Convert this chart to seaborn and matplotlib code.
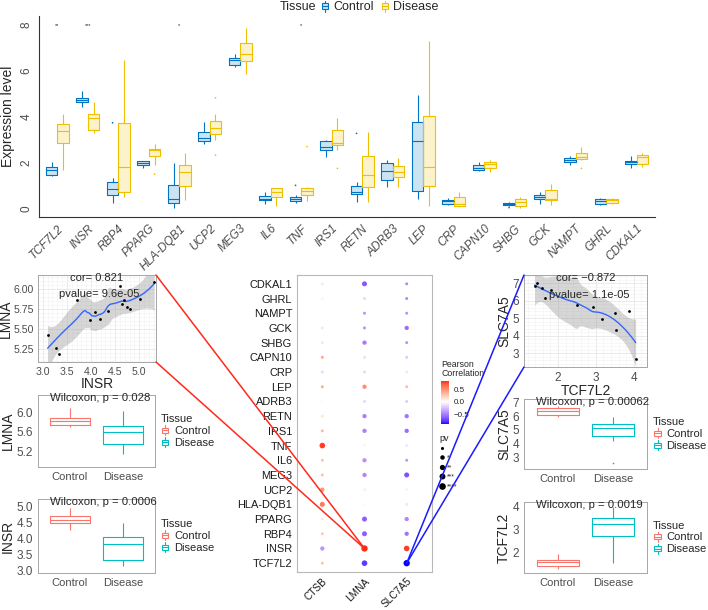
import numpy as np
import pandas as pd
import matplotlib
matplotlib.use("Agg")
import matplotlib.pyplot as plt
import seaborn as sns
from matplotlib.colors import ListedColormap, Normalize
from matplotlib.patches import ConnectionPatch, Rectangle
from matplotlib.lines import Line2D
from matplotlib.legend_handler import HandlerBase
import matplotlib.cm as cm

# ---------------------------------------------------------------- data
genes = ["TCF7L2", "INSR", "RBP4", "PPARG", "HLA-DQB1", "UCP2", "MEG3", "IL6", "TNF",
         "IRS1", "RETN", "ADRB3", "LEP", "CRP", "CAPN10", "SHBG", "GCK", "NAMPT",
         "GHRL", "CDKAL1"]
tissues = ["Control", "Disease"]

# five-number summaries (whisker low, Q1, median, Q3, whisker high)
ctrl_lo  = [1.42, 4.41, 0.26, 1.78, 0.04, 2.81, 6.17, 0.20, 0.23, 2.26, 0.30, 0.93, 0.43, 0.16, 1.64, 0.12, 0.20, 1.90, 0.16, 1.78]
ctrl_q1  = [1.46, 4.63, 0.59, 1.90, 0.26, 2.96, 6.25, 0.35, 0.32, 2.55, 0.64, 1.25, 0.77, 0.20, 1.68, 0.16, 0.41, 2.04, 0.20, 1.94]
ctrl_med = [1.67, 4.74, 0.86, 2.00, 0.42, 3.06, 6.49, 0.43, 0.42, 2.70, 0.71, 1.65, 2.94, 0.32, 1.78, 0.20, 0.52, 2.12, 0.33, 2.01]
ctrl_q3  = [1.80, 4.84, 1.17, 2.06, 1.03, 3.33, 6.58, 0.55, 0.52, 2.94, 0.99, 1.97, 3.77, 0.38, 1.88, 0.26, 0.59, 2.19, 0.41, 2.07]
ctrl_hi  = [2.01, 5.13, 1.32, 2.09, 1.97, 3.77, 6.76, 0.71, 0.59, 2.99, 1.17, 2.12, 4.94, 0.48, 2.01, 0.30, 0.71, 2.30, 0.48, 2.29]

dis_lo  = [1.68, 3.28, 0.52, 1.90, 0.38, 3.01, 5.86, 0.12, 0.33, 2.55, 0.30, 0.96, 0.09, 0.06, 1.61, 0.04, 0.16, 2.12, 0.20, 1.83]
dis_q1  = [2.87, 3.42, 0.70, 2.29, 0.99, 3.23, 6.43, 0.52, 0.59, 2.77, 0.93, 1.36, 0.99, 0.09, 1.78, 0.09, 0.38, 2.16, 0.23, 1.93]
dis_med = [3.39, 3.93, 1.80, 2.55, 1.61, 3.52, 6.76, 0.70, 0.78, 2.88, 1.46, 1.61, 1.80, 0.19, 1.93, 0.28, 0.42, 2.26, 0.38, 2.23]
dis_q3  = [3.67, 4.14, 3.71, 2.59, 1.90, 3.81, 7.22, 0.88, 0.88, 3.42, 2.29, 1.86, 4.04, 0.49, 2.01, 0.41, 0.81, 2.41, 0.42, 2.33]
dis_hi  = [4.14, 4.65, 6.46, 2.80, 2.41, 4.14, 7.89, 0.91, 0.93, 3.97, 3.35, 2.19, 7.30, 0.74, 2.12, 0.52, 1.07, 2.70, 0.48, 2.43]

out_gene   = ["RBP4", "UCP2", "UCP2", "PPARG", "IRS1", "RETN", "TNF", "TNF", "NAMPT", "SHBG"]
out_tissue = ["Control", "Disease", "Disease", "Disease", "Disease", "Control", "Control", "Disease", "Disease", "Control"]
out_value  = [3.74, 2.33, 4.83, 1.50, 1.75, 3.28, 1.01, 2.70, 1.75, 0.04]

sig_gene  = ["TCF7L2", "INSR", "HLA-DQB1", "TNF"]
sig_label = ["**", "***", "*", "*"]

# dot-plot correlations (rows in gene order, bottom to top)
targets = ["CTSB", "LMNA", "SLC7A5"]
cor_CTSB   = [0.28, -0.40, 0.25, 0.12, 0.58, 0.48, 0.28, 0.28, 0.78, 0.32, 0.12, 0.02, 0.38, -0.15, 0.40, 0.12, 0.12, 0.00, 0.05, 0.10]
cor_LMNA   = [-0.74, 0.821, -0.60, -0.60, 0.03, 0.08, -0.45, -0.42, 0.06, -0.48, -0.48, -0.15, 0.50, -0.15, -0.12, -0.50, -0.42, -0.42, -0.15, -0.62]
cor_SLC7A5 = [-0.872, 0.78, -0.52, -0.45, -0.10, -0.05, -0.65, -0.40, -0.10, -0.55, -0.52, -0.20, 0.30, 0.12, -0.20, -0.42, -0.55, -0.42, -0.45, -0.45]
pv_CTSB   = ["ns", "*", "ns", "ns", "**", "*", "ns", "ns", "***", "ns", "ns", "ns", "ns", "ns", "ns", "ns", "ns", "ns", "ns", "ns"]
pv_LMNA   = ["***", "****", "**", "**", "ns", "ns", "*", "*", "ns", "*", "*", "ns", "*", "ns", "ns", "*", "ns", "ns", "ns", "**"]
pv_SLC7A5 = ["****", "***", "*", "*", "ns", "ns", "**", "ns", "ns", "*", "*", "ns", "ns", "ns", "ns", "ns", "*", "ns", "ns", "ns"]
pv_levels = ["ns", "*", "**", "***", "****"]
pv_labels = ["", "*", "**", "***", "****"]

# scatter panels
insr_x = [3.10, 3.28, 3.33, 3.71, 3.99, 4.08, 4.18, 4.35, 4.61, 4.65, 4.68, 4.74, 4.81, 5.01, 5.31]
lmna_y = [5.43, 5.26, 5.19, 5.86, 5.62, 5.71, 5.63, 5.73, 6.04, 5.81, 5.86, 5.77, 5.75, 5.88, 6.09]
tcf_x  = [1.38, 1.45, 1.58, 1.65, 1.82, 2.51, 2.91, 3.15, 3.50, 3.52, 3.88, 4.05]
slc_y  = [6.81, 7.00, 6.74, 6.17, 6.62, 5.72, 5.64, 4.96, 5.30, 4.30, 5.42, 2.68]

# small box panels (whisker low, Q1, median, Q3, whisker high)
lmna_ctrl = [5.69, 5.74, 5.81, 5.88, 6.08]
lmna_dis  = [5.15, 5.35, 5.60, 5.71, 6.03]
insr_ctrl = [4.26, 4.47, 4.58, 4.71, 4.95]
insr_dis  = [3.13, 3.32, 3.81, 4.03, 4.49]
slc_ctrl  = [5.90, 6.10, 6.40, 6.55, 6.75]
slc_dis   = [4.16, 4.58, 5.11, 5.42, 5.93]
slc_dis_out = [2.62]
tcf_ctrl  = [1.32, 1.44, 1.61, 1.68, 1.94]
tcf_dis   = [1.58, 2.74, 3.23, 3.49, 4.00]

# ---------------------------------------------------------------- style
sns.set_style("white")
plt.rcParams["font.family"] = ["Liberation Sans", "DejaVu Sans"]
GREY30 = "#4D4D4D"
JCO = ["#0073C2", "#EFC000"]
JCO_FILL = ["#CCE3F3", "#FCF2CC"]
GG = ["#F8766D", "#00BFC4"]

W, H = 708, 610
fig = plt.figure(figsize=(W / 100, H / 100), dpi=100)


def rect(x0, y0, x1, y1):
    return [x0 / W, 1 - y1 / H, (x1 - x0) / W, (y1 - y0) / H]


class BoxHandler(HandlerBase):
    def create_artists(self, legend, orig_handle, xdescent, ydescent, width, height, fontsize, trans):
        ec = orig_handle.get_edgecolor()
        fc = orig_handle.get_facecolor()
        x0, y0 = -xdescent, -ydescent
        cx = x0 + width / 2
        r = Rectangle((x0 + 0.15 * width, y0 + 0.25 * height), 0.7 * width, 0.5 * height,
                      facecolor=fc, edgecolor=ec, lw=0.8, transform=trans)
        m = Line2D([x0 + 0.15 * width, x0 + 0.85 * width], [y0 + 0.5 * height] * 2, color=ec, lw=0.8, transform=trans)
        w1 = Line2D([cx, cx], [y0, y0 + 0.25 * height], color=ec, lw=0.8, transform=trans)
        w2 = Line2D([cx, cx], [y0 + 0.75 * height, y0 + height], color=ec, lw=0.8, transform=trans)
        return [r, m, w1, w2]


# ---------------------------------------------------------------- top panel
rows = []
for i, g in enumerate(genes):
    for t, arrs in (("Control", (ctrl_lo, ctrl_q1, ctrl_med, ctrl_q3, ctrl_hi)),
                    ("Disease", (dis_lo, dis_q1, dis_med, dis_q3, dis_hi))):
        for a in arrs:
            rows.append((g, t, a[i]))
top_df = pd.DataFrame(rows, columns=["gene", "Tissue", "value"])

ax = fig.add_axes(rect(39, 16, 655, 217))
sns.boxplot(data=top_df, x="gene", y="value", hue="Tissue", order=genes, hue_order=tissues,
            palette=JCO_FILL, width=0.75, whis=(0, 100), linewidth=0, showcaps=False,
            fliersize=0, saturation=1, legend=False, ax=ax)
sns.boxplot(data=top_df, x="gene", y="value", hue="Tissue", order=genes, hue_order=tissues,
            palette=JCO, width=0.75, whis=(0, 100), linewidth=0.8, showcaps=False,
            fill=False, fliersize=0, legend=False, ax=ax)
off = {"Control": -0.1875, "Disease": 0.1875}
ax.scatter([genes.index(g) + off[t] for g, t in zip(out_gene, out_tissue)], out_value,
           s=1.5, c=[JCO[tissues.index(t)] for t in out_tissue], linewidths=0, zorder=5)
for g, lab in zip(sig_gene, sig_label):
    ax.text(genes.index(g), 8.0, lab, ha="center", va="center", fontsize=4, color="#222222")
ax.set_xlim(-0.6, len(genes) - 0.4)
ax.set_ylim(-0.37, 8.4)
ax.set_yticks([0, 2, 4, 6, 8])
ax.set_xlabel("")
ax.set_ylabel("Expression level", fontsize=10, labelpad=4)
for s in ["top", "right"]:
    ax.spines[s].set_visible(False)
for s in ["left", "bottom"]:
    ax.spines[s].set_color("#333333")
    ax.spines[s].set_linewidth(0.8)
ax.tick_params(axis="y", labelrotation=90, labelsize=8.5, colors=GREY30, length=3, width=0.6, pad=1.5)
ax.tick_params(axis="x", labelsize=8.5, colors=GREY30, length=3, width=0.6, pad=1)
for lab in ax.get_yticklabels():
    lab.set_va("center")
for lab in ax.get_xticklabels():
    lab.set_rotation(45)
    lab.set_ha("right")
    lab.set_rotation_mode("anchor")
    lab.set_fontstyle("italic")

fig.text(280 / W, 1 - 7 / H, "Tissue", fontsize=9, va="center", ha="left")
fig.legend(handles=[Rectangle((0, 0), 1, 1, fc=JCO_FILL[0], ec=JCO[0]),
                    Rectangle((0, 0), 1, 1, fc=JCO_FILL[1], ec=JCO[1])],
           labels=tissues, loc="center left", bbox_to_anchor=(321 / W, 1 - 7 / H), ncol=2,
           frameon=False, fontsize=9, handlelength=0.7, handleheight=1.0, handletextpad=0.3,
           columnspacing=0.5, borderpad=0, borderaxespad=0, handler_map={Rectangle: BoxHandler()})

# ---------------------------------------------------------------- dot plot
M_RGB2XYZ = np.array([[0.4124564, 0.3575761, 0.1804375],
                      [0.2126729, 0.7151522, 0.0721750],
                      [0.0193339, 0.1191920, 0.9503041]])
WHITE = np.array([0.95047, 1.0, 1.08883])


def lab_from_rgb(c):
    c = np.asarray(c, float)
    lin = np.where(c <= 0.04045, c / 12.92, ((c + 0.055) / 1.055) ** 2.4)
    xyz = M_RGB2XYZ @ lin / WHITE
    d = 6 / 29
    f = np.where(xyz > d ** 3, np.cbrt(xyz), xyz / (3 * d * d) + 4 / 29)
    return np.array([116 * f[1] - 16, 500 * (f[0] - f[1]), 200 * (f[1] - f[2])])


def rgb_from_lab(lab):
    L, a, b = lab
    fy = (L + 16) / 116
    fx, fz = fy + a / 500, fy - b / 200
    d = 6 / 29
    finv = lambda t: t ** 3 if t > d else 3 * d * d * (t - 4 / 29)
    xyz = np.array([finv(fx), finv(fy), finv(fz)]) * WHITE
    lin = np.clip(np.linalg.inv(M_RGB2XYZ) @ xyz, 0, 1)
    c = np.where(lin <= 0.0031308, 12.92 * lin, 1.055 * lin ** (1 / 2.4) - 0.055)
    return np.clip(c, 0, 1)


lab_lo, lab_mid, lab_hi = lab_from_rgb([0, 0, 1]), lab_from_rgb([1, 1, 1]), lab_from_rgb([1, 0, 0])
cols = []
for t in np.linspace(0, 1, 256):
    if t < 0.5:
        s = t / 0.5
        cols.append(rgb_from_lab(lab_lo * (1 - s) + lab_mid * s))
    else:
        s = (t - 0.5) / 0.5
        cols.append(rgb_from_lab(lab_mid * (1 - s) + lab_hi * s))
cmap = ListedColormap(cols)

all_cor = cor_CTSB + cor_LMNA + cor_SLC7A5
cmax = max(abs(min(all_cor)), abs(max(all_cor)))
norm = Normalize(-cmax, cmax)

drows = []
for tgt, cors, pvs in (("CTSB", cor_CTSB, pv_CTSB), ("LMNA", cor_LMNA, pv_LMNA), ("SLC7A5", cor_SLC7A5, pv_SLC7A5)):
    for g, c, p in zip(genes, cors, pvs):
        drows.append((tgt, g, c, p))
dot_df = pd.DataFrame(drows, columns=["target", "gene", "cor", "pv"])
size_area = [4.5, 9.5, 13, 16.5, 21]
size_map = dict(zip(pv_levels, size_area))

axd = fig.add_axes(rect(297, 275, 432, 572))
sns.scatterplot(data=dot_df, x="target", y="gene", hue="cor", hue_norm=norm, palette=cmap,
                size="pv", sizes=size_map, size_order=pv_levels, linewidth=0, legend=False, ax=axd)
axd.set_xlim(-0.6, 2.6)
axd.set_ylim(-0.6, len(genes) - 0.4)
axd.set_xlabel("")
axd.set_ylabel("")
for s in axd.spines.values():
    s.set_color("#B8B8B8")
    s.set_linewidth(0.8)
axd.tick_params(axis="y", labelsize=7.9, colors="#B8B8B8", labelcolor="#1A1A1A", length=2.5, width=0.6, pad=1)
axd.tick_params(axis="x", labelsize=7.3, colors="#B8B8B8", labelcolor="#1A1A1A", length=2.5, width=0.6, pad=0.5)
for lab in axd.get_xticklabels():
    lab.set_rotation(45)
    lab.set_ha("right")
    lab.set_rotation_mode("anchor")

cax = fig.add_axes(rect(441, 381, 449, 424))
sm = cm.ScalarMappable(norm=norm, cmap=cmap)
cb = fig.colorbar(sm, cax=cax, boundaries=np.linspace(min(all_cor), max(all_cor), 200))
cb.outline.set_visible(False)
cb.set_ticks([-0.5, 0.0, 0.5])
cb.set_ticklabels(["\u22120.5", "0.0", "0.5"])
cax.tick_params(labelsize=5.8, length=2, color="white", width=0.6, pad=1.5, labelcolor="#222222")
cax.text(0, 1.08, "Pearson\nCorrelation", transform=cax.transAxes, ha="left", va="bottom",
         fontsize=6.3, linespacing=1.0)

pv_handles = [Line2D([], [], ls="", marker="o", color="black", markersize=np.sqrt(a) * 1.05, markeredgewidth=0)
              for a in size_area]
leg = fig.legend(pv_handles, pv_labels, title="pv", loc="upper left", bbox_to_anchor=(439 / W, 1 - 434 / H),
                 frameon=False, fontsize=5, title_fontsize=6.5, labelspacing=0.35, handletextpad=0.1,
                 borderpad=0, borderaxespad=0, handlelength=1.0)
leg._legend_box.align = "left"

# ---------------------------------------------------------------- loess helper
def t975(df):
    z = 1.959964
    return z + (z ** 3 + z) / (4 * df) + (5 * z ** 5 + 16 * z ** 3 + 3 * z) / (96 * df ** 2)


def loess_rows(x, xq, span=0.75):
    n = len(x)
    q = int(np.floor(span * n))
    out = np.zeros((len(xq), n))
    for j, x0 in enumerate(xq):
        d = np.abs(x - x0)
        h = np.sort(d)[q - 1]
        w = np.clip(1 - (d / h) ** 3, 0, None) ** 3
        X = np.vstack([np.ones(n), x - x0, (x - x0) ** 2]).T
        A = np.linalg.pinv(X.T @ (w[:, None] * X)) @ (X.T * w)
        out[j] = A[0]
    return out


def smooth(ax, x, y):
    x = np.asarray(x, float)
    y = np.asarray(y, float)
    xg = np.linspace(x.min(), x.max(), 80)
    Ld = loess_rows(x, x)
    Lg = loess_rows(x, xg)
    IL = np.eye(len(x)) - Ld
    res = IL @ y
    C = IL.T @ IL
    d1 = np.trace(C)
    d2 = np.trace(C @ C)
    s = np.sqrt(np.sum(res ** 2) / d1)
    fit = Lg @ y
    se = s * np.sqrt(np.sum(Lg ** 2, axis=1))
    tq = t975(d1 ** 2 / d2)
    ax.fill_between(xg, fit - tq * se, fit + tq * se, color="#999999", alpha=0.4, lw=0, zorder=2)
    ax.plot(xg, fit, color="#3366FF", lw=1.0, zorder=3)


def bw_axes(ax, grid=True, lsize=8):
    for s in ax.spines.values():
        s.set_color("#A6A6A6")
        s.set_linewidth(0.7)
    if grid:
        ax.set_axisbelow(True)
        ax.minorticks_on()
        ax.grid(True, which="major", color="#E6E6E6", lw=0.6)
        ax.grid(True, which="minor", color="#F2F2F2", lw=0.4)
        ax.tick_params(which="minor", length=0)
    ax.tick_params(which="major", labelsize=lsize, colors="#A6A6A6", labelcolor=GREY30, length=2.5, width=0.6, pad=1)


# ---------------------------------------------------------------- scatter panels
axl = fig.add_axes(rect(38, 275, 156, 362))
sns.scatterplot(x=insr_x, y=lmna_y, color="black", s=4, linewidth=0, ax=axl, zorder=4)
smooth(axl, insr_x, lmna_y)
axl.set_xlim(2.9, 5.35)
axl.set_ylim(5.09, 6.175)
axl.set_xticks([3.0, 3.5, 4.0, 4.5, 5.0])
axl.set_yticks([5.25, 5.50, 5.75, 6.00])
axl.set_xticks([3.25, 3.75, 4.25, 4.75, 5.25], minor=True)
axl.set_yticks([5.125, 5.375, 5.625, 5.875, 6.125], minor=True)
axl.set_yticklabels(["5.25", "5.50", "5.75", "6.00"])
bw_axes(axl, lsize=7.6)
axl.tick_params(axis="y", pad=0.5)
axl.set_xlabel("INSR", fontsize=10, labelpad=0)
axl.set_ylabel("LMNA", fontsize=10, labelpad=0)
axl.text(0.5, 0.965, "cor= 0.821", transform=axl.transAxes, ha="center", va="center", fontsize=8)
axl.text(0.52, 0.78, "pvalue= 9.6e-05", transform=axl.transAxes, ha="center", va="center", fontsize=8)

axr = fig.add_axes(rect(524, 275, 647, 367))
sns.scatterplot(x=tcf_x, y=slc_y, color="black", s=4, linewidth=0, ax=axr, zorder=4)
smooth(axr, tcf_x, slc_y)
axr.set_xlim(1.10, 4.35)
axr.set_ylim(2.2, 7.46)
axr.set_xticks([2, 3, 4])
axr.set_yticks([3, 4, 5, 6, 7])
axr.set_xticks([1.5, 2.5, 3.5], minor=True)
axr.set_yticks([2.5, 3.5, 4.5, 5.5, 6.5], minor=True)
bw_axes(axr, lsize=8.5)
axr.set_xlabel("TCF7L2", fontsize=10, labelpad=0)
axr.set_ylabel("SLC7A5", fontsize=10, labelpad=1)
axr.text(0.5, 0.967, "cor= \u22120.872", transform=axr.transAxes, ha="center", va="center", fontsize=8)
axr.text(0.53, 0.78, "pvalue= 1.1e-05", transform=axr.transAxes, ha="center", va="center", fontsize=8)

# ---------------------------------------------------------------- small box panels
def small_box(pos, vc, vd, ylabel, ptext, ylim, yticks, ytl, outl=None):
    a = fig.add_axes(rect(*pos))
    df = pd.DataFrame({"Tissue": ["Control"] * len(vc) + ["Disease"] * len(vd), "value": vc + vd})
    sns.boxplot(data=df, x="Tissue", y="value", hue="Tissue", order=tissues, hue_order=tissues,
                palette=GG, fill=False, width=0.75, whis=(0, 100), showcaps=False, linewidth=0.8,
                fliersize=0, legend=False, ax=a)
    if outl:
        a.scatter([1] * len(outl), outl, s=1.5, color=GG[1], linewidths=0, zorder=5)
    a.set_xlim(-0.6, 1.6)
    a.set_ylim(*ylim)
    a.set_yticks(yticks)
    a.set_yticklabels(ytl)
    a.set_xlabel("")
    a.set_ylabel(ylabel, fontsize=10, labelpad=1)
    bw_axes(a, grid=False)
    a.tick_params(axis="x", labelsize=8)
    a.tick_params(axis="y", labelsize=8.5)
    a.text(0.1, 0.955, ptext, transform=a.transAxes, ha="left", va="center", fontsize=8.2)
    a.legend(handles=[Rectangle((0, 0), 1, 1, fc="white", ec=GG[0]), Rectangle((0, 0), 1, 1, fc="white", ec=GG[1])],
             labels=tissues, title="Tissue", loc="center left", bbox_to_anchor=(1.05, 0.5), frameon=False,
             fontsize=8, title_fontsize=8, handlelength=0.8, handleheight=1.0, handletextpad=0.4,
             labelspacing=0.1, borderpad=0, borderaxespad=0, alignment="left",
             handler_map={Rectangle: BoxHandler()})
    return a


small_box((38, 395, 155, 467), lmna_ctrl, lmna_dis, "LMNA", "Wilcoxon, p = 0.028",
          (4.88, 6.35), [5.2, 5.6, 6.0], ["5.2", "5.6", "6.0"])
small_box((38, 499, 155, 573), insr_ctrl, insr_dis, "INSR", "Wilcoxon, p = 0.0006",
          (2.92, 5.23), [3.0, 3.5, 4.0, 4.5, 5.0], ["3.0", "3.5", "4.0", "4.5", "5.0"])
small_box((524, 399, 647, 469), slc_ctrl, slc_dis, "SLC7A5", "Wilcoxon, p = 0.00062",
          (2.15, 7.24), [3, 4, 5, 6, 7], ["3", "4", "5", "6", "7"], outl=slc_dis_out)
small_box((524, 502, 647, 573), tcf_ctrl, tcf_dis, "TCF7L2", "Wilcoxon, p = 0.0019",
          (1.13, 4.2), [2, 3, 4], ["2", "3", "4"])

# ---------------------------------------------------------------- connectors
pt_l = (targets.index("LMNA"), genes.index("INSR"))
pt_r = (targets.index("SLC7A5"), genes.index("TCF7L2"))
for corner in [(1, 1), (1, 0)]:
    fig.add_artist(ConnectionPatch(xyA=corner, coordsA=axl.transAxes, xyB=pt_l, coordsB=axd.transData,
                                   color="#FF2A1A", lw=1.1, zorder=10))
for corner in [(0, 1), (0, 0)]:
    fig.add_artist(ConnectionPatch(xyA=corner, coordsA=axr.transAxes, xyB=pt_r, coordsB=axd.transData,
                                   color="#1A1AFF", lw=1.1, zorder=10))

fig.savefig("out.png", dpi=100)
